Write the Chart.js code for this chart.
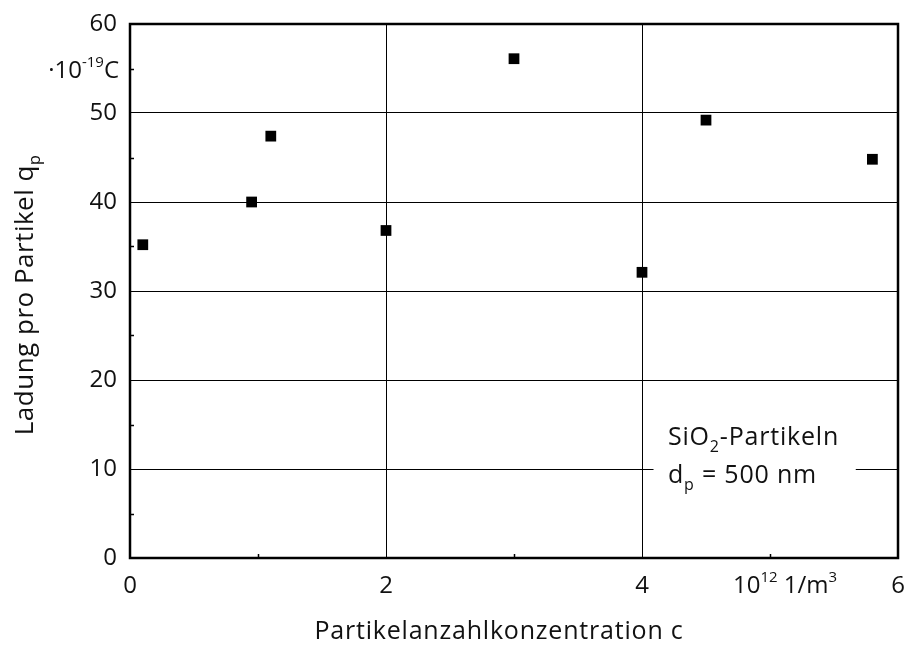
<!DOCTYPE html>
<html>
<head>
<meta charset="utf-8">
<script src="https://cdn.jsdelivr.net/npm/chart.js@4.4.1/dist/chart.umd.min.js"></script>
<style>
    body { margin: 0; background: #ffffff; }
    canvas { display: block; }
</style>
</head>
<body>
<canvas id="chargeChart" width="910" height="646"></canvas>
<script>
// Data
const concentration = [0.1, 0.95, 1.1, 2.0, 3.0, 4.0, 4.5, 5.8]; // 10^12 1/m^3
const charge = [35.2, 40.0, 47.4, 36.8, 56.1, 32.1, 49.2, 44.8];  // 10^-19 C
const xTickLabels = ['0', '2', '4', '6'];
const yTickLabels = ['0', '10', '20', '30', '40', '50', '60'];

const FONT = '"Open Sans", "Liberation Sans", sans-serif';

// draw text pieces with sub/superscripts, parts = [[text, 'sub'|'sup'|null], ...]
function drawRich(ctx, parts, x, y, align, size, spacing) {
    const small = Math.round(size * 0.62);
    ctx.letterSpacing = (spacing || 0) + 'px';
    let total = 0;
    parts.forEach(p => {
        ctx.font = (p[1] ? small : size) + 'px ' + FONT;
        total += ctx.measureText(p[0]).width;
    });
    let cx = x;
    if (align === 'center') cx = x - total / 2;
    if (align === 'right') cx = x - total;
    ctx.textAlign = 'left';
    ctx.textBaseline = 'alphabetic';
    parts.forEach(p => {
        ctx.font = (p[1] ? small : size) + 'px ' + FONT;
        let dy = 0;
        if (p[1] === 'sub') dy = size * 0.28;
        if (p[1] === 'sup') dy = -size * 0.45;
        ctx.fillText(p[0], cx, y + dy);
        cx += ctx.measureText(p[0]).width;
    });
    ctx.letterSpacing = '0px';
}

const decorations = {
    id: 'decorations',
    beforeDatasetsDraw(chart) {
        // white label box that interrupts the grid line at 10
        const ctx = chart.ctx;
        const xs = chart.scales.x, ys = chart.scales.y;
        const x1 = xs.getPixelForValue(4.09), x2 = xs.getPixelForValue(5.67);
        const y1 = ys.getPixelForValue(16), y2 = ys.getPixelForValue(6.5);
        ctx.save();
        ctx.fillStyle = '#ffffff';
        ctx.fillRect(x1, y1, x2 - x1, y2 - y1);
        ctx.restore();
    },
    afterDraw(chart) {
        const ctx = chart.ctx;
        const area = chart.chartArea;
        const xs = chart.scales.x, ys = chart.scales.y;
        ctx.save();

        // minor ticks pointing inward
        ctx.strokeStyle = '#000';
        ctx.lineWidth = 1.5;
        ctx.beginPath();
        [5, 15, 25, 35, 45, 55].forEach(v => {
            const py = Math.round(ys.getPixelForValue(v)) + 0.5;
            ctx.moveTo(area.left, py);
            ctx.lineTo(area.left + 4, py);
        });
        [1, 3, 5].forEach(v => {
            const px = Math.round(xs.getPixelForValue(v)) + 0.5;
            ctx.moveTo(px, area.bottom);
            ctx.lineTo(px, area.bottom - 4);
        });
        ctx.stroke();

        // frame
        ctx.lineWidth = 2.5;
        ctx.strokeRect(area.left, area.top, area.right - area.left, area.bottom - area.top);

        ctx.fillStyle = '#111';
        // unit labels
        drawRich(ctx, [['\u00b710', null], ['-19', 'sup'], ['C', null]], 119, 78, 'right', 24, 0);
        drawRich(ctx, [['10', null], ['12', 'sup'], [' 1/m', null], ['3', 'sup']], 733, 593, 'left', 24, 0);

        // annotation box text
        drawRich(ctx, [['SiO', null], ['2', 'sub'], ['-Partikeln', null]], 668, 445, 'left', 25, 0.8);
        drawRich(ctx, [['d', null], ['p', 'sub'], [' = 500 nm', null]], 668, 483, 'left', 25, 0.8);

        // axis titles
        drawRich(ctx, [['Partikelanzahlkonzentration c', null]], 499, 639, 'center', 25, 0.8);
        ctx.translate(33, 295);
        ctx.rotate(-Math.PI / 2);
        drawRich(ctx, [['Ladung pro Partikel q', null], ['p', 'sub']], 0, 0, 'center', 26, 0.5);
        ctx.restore();
    }
};

const noPadding = scale => {
    scale.paddingLeft = 0;
    scale.paddingRight = 0;
    scale.paddingTop = 0;
    scale.paddingBottom = 0;
};

const ctx = document.getElementById('chargeChart').getContext('2d');
new Chart(ctx, {
    type: 'scatter',
    data: {
        datasets: [{
            data: concentration.map((c, i) => ({ x: c, y: charge[i] })),
            pointStyle: 'rect',
            pointRadius: 7.6,
            pointHoverRadius: 7.6,
            backgroundColor: '#000',
            borderColor: '#000',
            borderWidth: 0
        }]
    },
    options: {
        responsive: false,
        animation: false,
        layout: { padding: { left: 0, right: 12, top: 24, bottom: 0 } },
        plugins: {
            legend: { display: false },
            tooltip: { enabled: false }
        },
        scales: {
            x: {
                type: 'linear',
                min: 0,
                max: 6,
                afterFit: scale => { scale.height = 88; noPadding(scale); },
                border: { display: false },
                grid: {
                    drawTicks: false,
                    lineWidth: 1,
                    color: c => (c.tick && (c.tick.value === 2 || c.tick.value === 4)) ? '#000' : 'rgba(0,0,0,0)'
                },
                ticks: {
                    stepSize: 1,
                    padding: 14,
                    color: '#111',
                    font: { family: FONT, size: 24 },
                    callback: v => xTickLabels.includes(String(v)) ? String(v) : ''
                }
            },
            y: {
                type: 'linear',
                min: 0,
                max: 60,
                afterFit: scale => { scale.width = 130; noPadding(scale); },
                border: { display: false },
                grid: {
                    drawTicks: false,
                    lineWidth: 1,
                    color: c => (c.tick && c.tick.value % 10 === 0 && c.tick.value > 0 && c.tick.value < 60) ? '#000' : 'rgba(0,0,0,0)'
                },
                ticks: {
                    stepSize: 5,
                    padding: 13,
                    color: '#111',
                    font: { family: FONT, size: 24 },
                    callback: v => yTickLabels.includes(String(v)) ? String(v) : ''
                }
            }
        }
    },
    plugins: [decorations]
});
</script>
</body>
</html>
